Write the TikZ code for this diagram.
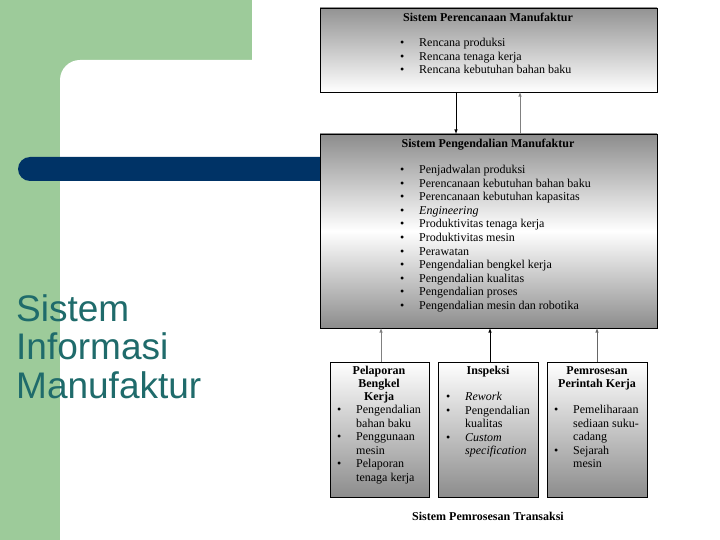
\documentclass[tikz,border=0pt]{standalone}
\usepackage{fontspec}
\setmainfont{Liberation Serif}
\newfontfamily\titlefont{Liberation Sans}
\definecolor{slidegreen}{HTML}{9DCB9A}
\definecolor{slideblue}{HTML}{003366}
\definecolor{titleteal}{HTML}{1F6B6B}
\newcommand{\blt}[1]{\makebox[19pt][l]{\textbullet}#1}
\newcommand{\cnt}[1]{\hspace*{19pt}#1}
\tikzset{
  sysbox/.style={draw, line width=0.8pt, anchor=north west, inner sep=0pt},
  boxtext/.style={font=\fontsize{12}{13.6}\selectfont, align=left, anchor=north west, inner sep=0pt},
  boxhead/.style={font=\fontsize{12}{13.2}\selectfont\bfseries, align=center, anchor=north, inner sep=0pt},
  flow/.style={-latex, line width=0.6pt}
}
\begin{document}
\begin{tikzpicture}[x=1pt,y=-1pt]
	\useasboundingbox (0,0) rectangle (720,540);
	% slide background
	\fill[slidegreen] (0,0) rectangle (252,60);
	\fill[slidegreen] (0,0) rectangle (100,540);
	\fill[white, rounded corners=20pt] (60,60) rectangle (760,580);
	\fill[slideblue, rounded corners=12pt] (18,157) rectangle (340,181);
	\node[font=\titlefont\fontsize{37}{38.5}\selectfont, text=titleteal, align=left, anchor=north west, inner sep=0pt] (title) at (16,294) {Sistem\\Informasi\\Manufaktur};
	% top box
	\path[sysbox, top color=gray!85, bottom color=white] (320,8) rectangle (657,92);
	\node[boxhead] (perH) at (488,13) {Sistem Perencanaan Manufaktur};
	\node[boxtext] (perL) at (400,38) {\blt{Rencana produksi}\\\blt{Rencana tenaga kerja}\\\blt{Rencana kebutuhan bahan baku}};
	% middle box
	\path[sysbox, top color=gray!90, bottom color=gray!90, middle color=white] (320,134) rectangle (657,328);
	\node[boxhead] (penH) at (488,139) {Sistem Pengendalian Manufaktur};
	\node[boxtext] (penL) at (400,165) {\blt{Penjadwalan produksi}\\\blt{Perencanaan kebutuhan bahan baku}\\\blt{Perencanaan kebutuhan kapasitas}\\\blt{\textit{Engineering}}\\\blt{Produktivitas tenaga kerja}\\\blt{Produktivitas mesin}\\\blt{Perawatan}\\\blt{Pengendalian bengkel kerja}\\\blt{Pengendalian kualitas}\\\blt{Pengendalian proses}\\\blt{Pengendalian mesin dan robotika}};
	% lower boxes
	\path[sysbox, top color=white, bottom color=gray!90] (330,362) rectangle (429,497);
	\path[sysbox, top color=white, bottom color=gray!90] (438,362) rectangle (538,497);
	\path[sysbox, top color=white, bottom color=gray!90] (547,362) rectangle (647,497);
	\node[boxhead] (lapH) at (379,366) {Pelaporan\\Bengkel\\Kerja};
	\node[boxtext] (lapL) at (337,405) {\blt{Pengendalian}\\\cnt{bahan baku}\\\blt{Penggunaan}\\\cnt{mesin}\\\blt{Pelaporan}\\\cnt{tenaga kerja}};
	\node[boxhead] (insH) at (488,366) {Inspeksi};
	\node[boxtext] (insL) at (446,392) {\blt{\textit{Rework}}\\\blt{Pengendalian}\\\cnt{kualitas}\\\blt{\textit{Custom}}\\\cnt{\textit{specification}}};
	\node[boxhead] (proH) at (597,366) {Pemrosesan\\Perintah Kerja};
	\node[boxtext] (proL) at (554,405) {\blt{Pemeliharaan}\\\cnt{sediaan suku-}\\\cnt{cadang}\\\blt{Sejarah}\\\cnt{mesin}};
	\node[font=\fontsize{12}{13}\selectfont\bfseries, inner sep=0pt] (trans) at (488,516) {Sistem Pemrosesan Transaksi};
	% connectors
	\coordinate (d1) at (456,92);  \coordinate (d2) at (456,134);
	\coordinate (u1) at (520,134); \coordinate (u2) at (520,92);
	\draw[flow] (d1) -- (d2);
	\draw[flow, gray] (u1) -- (u2);
	\coordinate (a1) at (381,362); \coordinate (a2) at (381,328);
	\coordinate (b1) at (490,362); \coordinate (b2) at (490,328);
	\coordinate (c1) at (597,362); \coordinate (c2) at (597,328);
	\draw[flow, gray] (a1) -- (a2);
	\draw[flow] (b1) -- (b2);
	\draw[flow, gray!80!black] (c1) -- (c2);
\end{tikzpicture}
\end{document}
